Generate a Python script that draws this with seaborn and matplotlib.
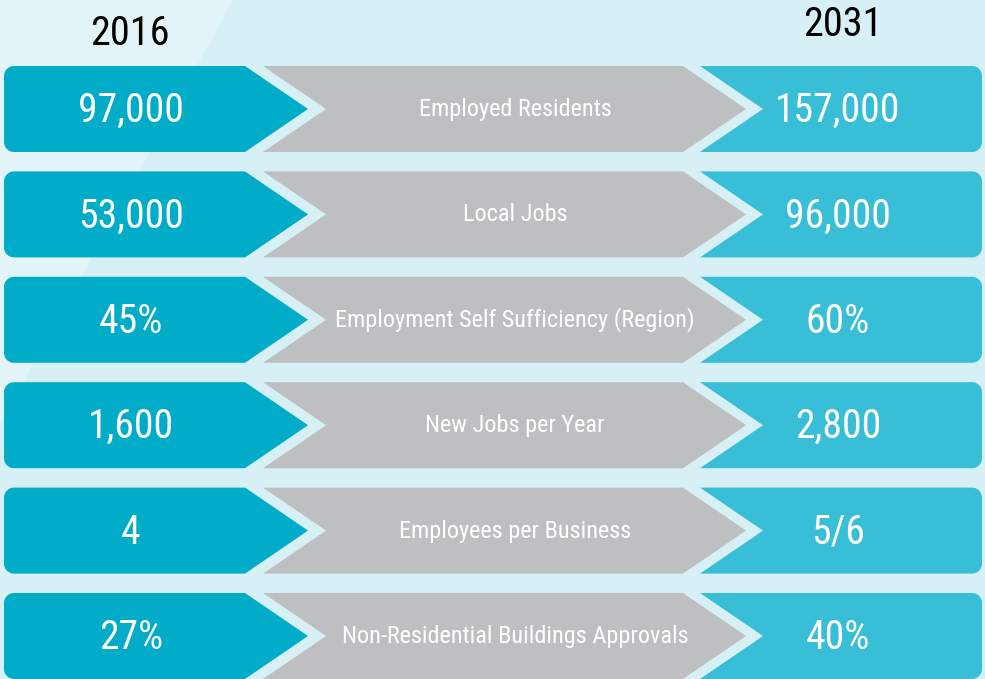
import numpy as np
import pandas as pd
import seaborn as sns
import matplotlib.pyplot as plt
from matplotlib import font_manager
from matplotlib.patches import Polygon

# Data
years = ["2016", "2031"]
measures = [
    "Employed Residents",
    "Local Jobs",
    "Employment Self Sufficiency (Region)",
    "New Jobs per Year",
    "Employees per Business",
    "Non-Residential Buildings Approvals",
]
values_2016 = ["97,000", "53,000", "45%", "1,600", "4", "27%"]
values_2031 = ["157,000", "96,000", "60%", "2,800", "5/6", "40%"]

df = pd.DataFrame({"measure": measures, "v2016": values_2016, "v2031": values_2031})

# Styling
sns.set_theme(style="white")
installed = {f.name for f in font_manager.fontManager.ttflist}
family = "DejaVu Sans"
for cand in ["Liberation Sans Narrow", "Roboto Condensed", "Open Sans Condensed"]:
    if cand in installed:
        family = cand
        break
plt.rcParams["font.family"] = [family, "DejaVu Sans"]

teal_left = "#00acc8"
teal_right = "#38bed6"
grey = "#bebfc1"
bg = "#d7f0f5"
bg_light = "#e2f4f8"

W, H = 985, 679
top0, pitch, h = 66, 105.4, 86
depth = 63
r = 10


def arc(cx, cy, a0, a1, n=12):
    t = np.radians(np.linspace(a0, a1, n))
    return list(zip(cx + r * np.cos(t), cy - r * np.sin(t)))


fig = plt.figure(figsize=(9.85, 6.79), dpi=100)
ax = fig.add_axes([0, 0, 1, 1])
ax.set_xlim(0, W)
ax.set_ylim(H, 0)
ax.axis("off")

# background with lighter diagonal band
ax.add_patch(Polygon([(0, 0), (W, 0), (W, H), (0, H)], color=bg, lw=0))
ax.add_patch(Polygon([(0, 0), (233, 0), (0, 425)], color=bg_light, lw=0))

for i, row in df.iterrows():
    t = top0 + i * pitch
    b = t + h
    m = t + h / 2

    # left arrow, rounded on the left
    pts = [(245, t), (245 + depth, m), (245, b)]
    pts += arc(4 + r, b - r, 270, 180)
    pts += arc(4 + r, t + r, 180, 90)
    ax.add_patch(Polygon(pts, color=teal_left, lw=0))

    # grey chevron
    pts = [(263, t), (683, t), (683 + depth, m), (683, b), (263, b), (263 + depth, m)]
    ax.add_patch(Polygon(pts, color=grey, lw=0))

    # right chevron, rounded on the right
    pts = [(700, t)]
    pts += arc(982 - r, t + r, 90, 0)
    pts += arc(982 - r, b - r, 0, -90)
    pts += [(700, b), (700 + depth, m)]
    ax.add_patch(Polygon(pts, color=teal_right, lw=0))

    ax.text(131, m + 13, row["v2016"], color="white", fontsize=28.5,
            ha="center", va="baseline")
    ax.text(515, m + 7, row["measure"], color="white", fontsize=17.5,
            ha="center", va="baseline")
    ax.text(838, m + 13, row["v2031"], color="white", fontsize=28.5,
            ha="center", va="baseline")

ax.text(130, 45, years[0], color="black", fontsize=29, ha="center", va="baseline")
ax.text(843, 36, years[1], color="black", fontsize=29, ha="center", va="baseline")

fig.savefig("out.png", dpi=100)
